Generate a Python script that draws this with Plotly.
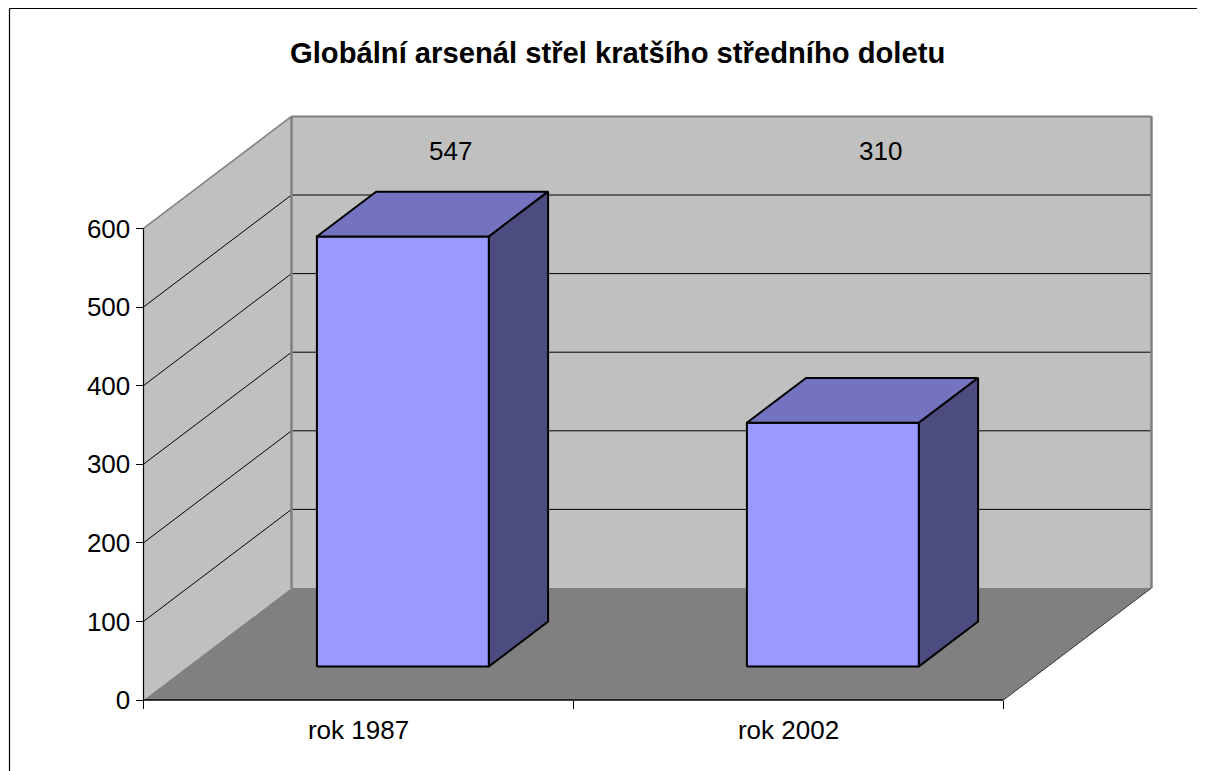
import plotly.graph_objects as go

# ---- data ----
categories = ["rok 1987", "rok 2002"]
values = [547, 310]
tick_values = [0, 100, 200, 300, 400, 500, 600]
title_text = "Globální arsenál střel kratšího středního doletu"

# ---- layout / projection constants (page body has an 8px margin) ----
OFF = 8
W, H = 1205 - OFF, 771 - OFF
AX_X, AX_Y = 143.5 - OFF, 700.0 - OFF   # pixel position of the front-left origin
CAT_PX = 430.0                          # px per category
VAL_PX = 0.786                          # px per value unit
DEPTH_PX = (148.0, -112.0)              # px offset of the back plane
DX = DEPTH_PX[0] / CAT_PX
DY = -DEPTH_PX[1] / VAL_PX
YMAX = 600
N = len(categories)
BAR_HALF = 0.2
D0, D1 = 0.3, 0.7
LBL_D = 0.62
LBL_V = 699

FONT = "Arial, Liberation Sans, sans-serif"
TICK_FS = 26
TITLE_FS = 29.2
WALL = "#C0C0C0"
FLOOR = "#808080"
EDGE = "#808080"
FRONT = "#9999FF"
TOP = "#7373BF"
SIDE = "#4C4C80"


def P(x, v, d):
    return (x + d * DX, v + d * DY)


def poly(pts, fill, line_color, lw):
    xs = [p[0] for p in pts] + [pts[0][0]]
    ys = [p[1] for p in pts] + [pts[0][1]]
    return go.Scatter(x=xs, y=ys, mode="lines", fill="toself", fillcolor=fill,
                      line=dict(color=line_color, width=lw), hoverinfo="skip",
                      showlegend=False)


def seg(a, b, color, lw):
    return go.Scatter(x=[a[0], b[0]], y=[a[1], b[1]], mode="lines",
                      line=dict(color=color, width=lw), hoverinfo="skip",
                      showlegend=False)


traces = []
# side wall, back wall, floor
traces.append(poly([P(0, 0, 0), P(0, YMAX, 0), P(0, YMAX, 1), P(0, 0, 1)], WALL, WALL, 0))
traces.append(poly([P(0, 0, 1), P(N, 0, 1), P(N, YMAX, 1), P(0, YMAX, 1)], WALL, WALL, 0))
traces.append(poly([P(0, 0, 0), P(N, 0, 0), P(N, 0, 1), P(0, 0, 1)], FLOOR, FLOOR, 0))

# gridlines
for v in tick_values[1:-1]:
    traces.append(seg(P(0, v, 0), P(0, v, 1), "black", 1))
    traces.append(seg(P(0, v, 1), P(N, v, 1), "black", 1))

# wall edges
traces.append(seg(P(0, YMAX, 0), P(0, YMAX, 1), EDGE, 1.5))
traces.append(seg(P(0, YMAX, 1), P(N, YMAX, 1), EDGE, 2))
traces.append(seg(P(0, 0, 1), P(0, YMAX, 1), EDGE, 2.5))
traces.append(seg(P(N, 0, 1), P(N, YMAX, 1), EDGE, 2.5))
traces.append(seg(P(N, 0, 0), P(N, 0, 1), "#333333", 1))

# bars
for i, val in enumerate(values):
    c = i + 0.5
    x0, x1 = c - BAR_HALF, c + BAR_HALF
    traces.append(poly([P(x0, 0, D0), P(x1, 0, D0), P(x1, val, D0), P(x0, val, D0)], FRONT, "black", 2))
    traces.append(poly([P(x0, val, D0), P(x1, val, D0), P(x1, val, D1), P(x0, val, D1)], TOP, "black", 2))
    traces.append(poly([P(x1, 0, D0), P(x1, 0, D1), P(x1, val, D1), P(x1, val, D0)], SIDE, "black", 2))

# axis lines
traces.append(seg(P(0, 0, 0), P(0, YMAX, 0), "black", 1.2))
traces.append(seg(P(0, 0, 0), P(N, 0, 0), "black", 1.5))

fig = go.Figure(traces)

xmin = -AX_X / CAT_PX
xmax = (W - AX_X) / CAT_PX
vmin = -(H - AX_Y) / VAL_PX
vmax = AX_Y / VAL_PX

common = dict(showgrid=False, zeroline=False, showline=False, fixedrange=True)
fig.update_layout(
    width=W, height=H,
    margin=dict(l=0, r=0, t=0, b=0),
    paper_bgcolor="white", plot_bgcolor="white",
    showlegend=False,
    font=dict(family=FONT, color="black", size=TICK_FS),
    xaxis=dict(range=[xmin, xmax], visible=False, fixedrange=True),
    yaxis=dict(range=[vmin, vmax], visible=False, fixedrange=True),
    # category labels
    xaxis2=dict(range=[xmin, xmax], overlaying="x", anchor="free",
                position=(H - AX_Y) / H, side="bottom",
                tickmode="array", tickvals=[i + 0.5 for i in range(N)],
                ticktext=categories, ticks="", ticklabelstandoff=12,
                tickfont=dict(size=TICK_FS, family=FONT), **common),
    # category boundary tick marks
    xaxis3=dict(range=[xmin, xmax], overlaying="x", anchor="free",
                position=(H - AX_Y) / H, side="bottom",
                tickmode="array", tickvals=list(range(N + 1)), showticklabels=False,
                ticks="outside", ticklen=8, tickwidth=1.2, tickcolor="black", **common),
    # value labels
    yaxis2=dict(range=[vmin, vmax], overlaying="y", anchor="free",
                position=AX_X / W, side="left",
                tickmode="array", tickvals=tick_values,
                ticks="outside", ticklen=2, tickcolor="rgba(0,0,0,0)",
                ticklabelstandoff=6,
                tickfont=dict(size=TICK_FS, family=FONT), **common),
    # value tick marks
    yaxis3=dict(range=[vmin, vmax], overlaying="y", anchor="free",
                position=AX_X / W, side="left",
                tickmode="array", tickvals=tick_values, showticklabels=False,
                ticks="outside", ticklen=8, tickwidth=1.2, tickcolor="black", **common),
)

# dummy traces to activate the extra axes
fig.add_trace(go.Scatter(x=[None], y=[None], xaxis="x2", yaxis="y2", showlegend=False))
fig.add_trace(go.Scatter(x=[None], y=[None], xaxis="x3", yaxis="y3", showlegend=False))

# data labels
for i, val in enumerate(values):
    fig.add_annotation(x=i + 0.5 + LBL_D * DX, y=LBL_V, text=str(val),
                       showarrow=False, xref="x", yref="y",
                       xanchor="center", yanchor="middle",
                       font=dict(size=TICK_FS, family=FONT, color="black"))

# title
fig.add_annotation(x=(617.5 - OFF) / W, y=1 - (53 - OFF) / H, xref="paper", yref="paper",
                   xanchor="center", yanchor="middle",
                   text="<b>" + title_text + "</b>", showarrow=False,
                   font=dict(size=TITLE_FS, family=FONT, color="black"))

# outer chart border (left and top visible)
bx, by = (9.5 - OFF) / W, 1 - (8.5 - OFF) / H
fig.add_shape(type="line", xref="paper", yref="paper", x0=bx, y0=0, x1=bx, y1=by,
              line=dict(color="black", width=1.2))
fig.add_shape(type="line", xref="paper", yref="paper", x0=bx, y0=by, x1=1, y1=by,
              line=dict(color="black", width=1.2))

fig.write_html("out.html")
